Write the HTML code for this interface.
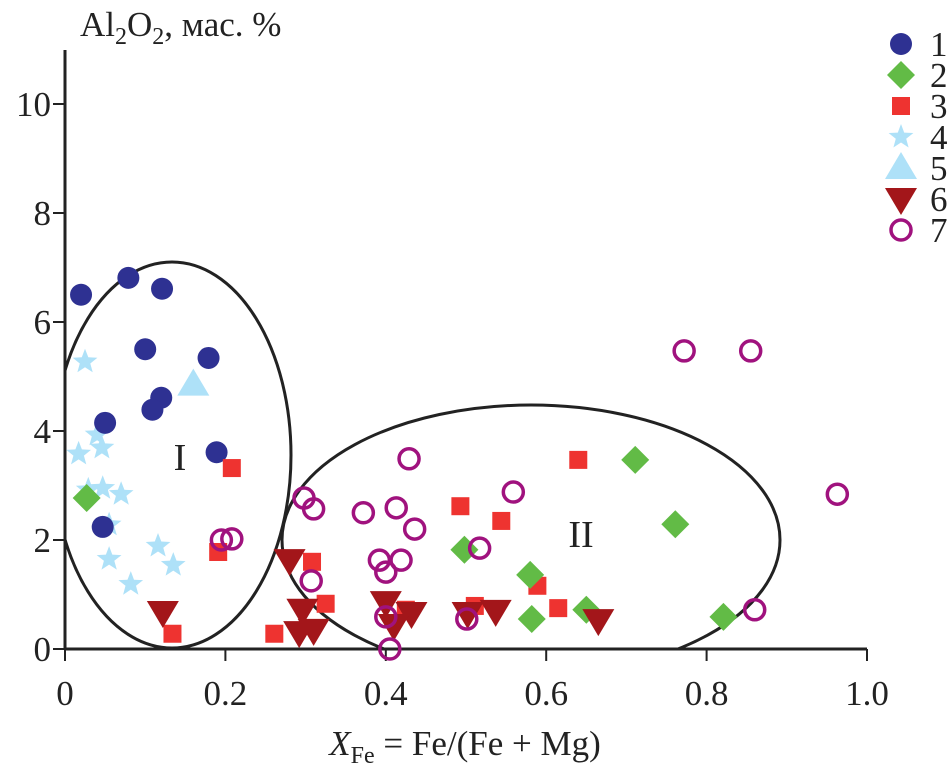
<!DOCTYPE html>
<html><head><meta charset="utf-8"><style>
html,body{margin:0;padding:0;background:#fff;}
svg{display:block;}
svg text{font-family:"Liberation Serif","DejaVu Serif","Times New Roman",serif;}
</style></head><body>
<svg id="chart" width="951" height="775" viewBox="0 0 951 775" font-family="Liberation Serif, DejaVu Serif, serif">
<defs><clipPath id="plotclip"><rect x="65" y="40" width="880" height="609"/></clipPath></defs>
<g id="ellipses" clip-path="url(#plotclip)"></g>
<g id="axes"></g>
<g id="marks"></g>
<g id="legend"></g>
<text x="80" y="36" font-size="35" fill="#222">Al<tspan font-size="24" dy="8">2</tspan><tspan dy="-8">O</tspan><tspan font-size="24" dy="8">2</tspan><tspan dy="-8">, мас. %</tspan></text>
<text x="465" y="755" font-size="35" fill="#222" text-anchor="middle"><tspan font-style="italic">X</tspan><tspan font-size="24" dy="8">Fe</tspan><tspan dy="-8"> = Fe/(Fe + Mg)</tspan></text>
<text x="180" y="470" font-size="38" fill="#222" text-anchor="middle">I</text>
<text x="581" y="547" font-size="38" fill="#222" text-anchor="middle">II</text>
</svg>
<script>
const xTicks=[0,0.2,0.4,0.6,0.8,1.0];
const xTickLabels=["0","0.2","0.4","0.6","0.8","1.0"];
const yTicks=[0,2,4,6,8,10];
const yTickLabels=["0","2","4","6","8","10"];
const s1x=[0.02,0.079,0.121,0.1,0.179,0.12,0.109,0.05,0.189,0.047];
const s1y=[6.5,6.81,6.61,5.5,5.34,4.61,4.39,4.15,3.61,2.24];
const s2x=[0.027,0.498,0.58,0.711,0.761,0.582,0.65,0.821];
const s2y=[2.77,1.82,1.36,3.47,2.29,0.55,0.72,0.59];
const s3x=[0.208,0.191,0.134,0.308,0.325,0.261,0.493,0.544,0.64,0.589,0.615,0.511,0.425];
const s3y=[3.32,1.78,0.28,1.6,0.83,0.28,2.62,2.35,3.47,1.16,0.75,0.79,0.72];
const s4x=[0.025,0.04,0.046,0.017,0.029,0.047,0.07,0.055,0.116,0.055,0.135,0.082];
const s4y=[5.27,3.93,3.69,3.58,2.92,2.95,2.84,2.28,1.89,1.65,1.54,1.19];
const s5x=[0.16];
const s5y=[4.85];
const s6x=[0.122,0.28,0.296,0.292,0.31,0.4,0.432,0.41,0.502,0.537,0.665];
const s6y=[0.68,1.63,0.72,0.31,0.35,0.86,0.66,0.44,0.66,0.7,0.53];
const s7x=[0.195,0.208,0.298,0.31,0.372,0.413,0.436,0.429,0.392,0.419,0.4,0.307,0.4,0.405,0.517,0.559,0.501,0.772,0.855,0.963,0.86];
const s7y=[2.0,2.02,2.77,2.57,2.5,2.59,2.2,3.49,1.63,1.63,1.41,1.25,0.59,0,1.85,2.88,0.55,5.47,5.47,2.84,0.72];
const legendLabels=["1","2","3","4","5","6","7"];

const NS="http://www.w3.org/2000/svg";
const X0=65,X1=867,Y0=649,Y10=104;
function sx(v){return X0+v*(X1-X0);}
function sy(v){return Y0-v*(Y0-Y10)/10;}
function mk(tag,attrs,parent){const e=document.createElementNS(NS,tag);for(const k in attrs)e.setAttribute(k,attrs[k]);parent.appendChild(e);return e;}

const axes=document.getElementById('axes');
let l=mk('line',{x1:X0,y1:50,x2:X0,y2:Y0,stroke:'#222','stroke-width':3},axes);


l=mk('line',{x1:X0-1,y1:Y0,x2:X1,y2:Y0,stroke:'#222','stroke-width':3},axes);


xTicks.forEach((v,i)=>{
  const t=mk('line',{x1:sx(v),y1:Y0,x2:sx(v),y2:Y0+12,stroke:'#222','stroke-width':2},axes);
  
  
  const tx=mk('text',{x:sx(v),y:Y0+56,'font-size':35,'text-anchor':'middle',fill:'#222'},axes);
  tx.textContent=xTickLabels[i];
  
  
});
yTicks.forEach((v,i)=>{
  const t=mk('line',{x1:X0-12,y1:sy(v),x2:X0,y2:sy(v),stroke:'#222','stroke-width':2},axes);
  
  
  const tx=mk('text',{x:X0-14,y:sy(v)+12,'font-size':35,'text-anchor':'end',fill:'#222'},axes);
  tx.textContent=yTickLabels[i];
  
  
});

const ell=document.getElementById('ellipses');
let e1=mk('ellipse',{cx:172,cy:455,rx:119,ry:193,fill:'none',stroke:'#222','stroke-width':3},ell);


let e2=mk('ellipse',{cx:531,cy:540,rx:249,ry:135,fill:'none',stroke:'#222','stroke-width':3},ell);



function starPts(cx,cy,R,r){let p=[];for(let i=0;i<10;i++){const a=-Math.PI/2+i*Math.PI/5;const rr=i%2?r:R;p.push((cx+rr*Math.cos(a)).toFixed(1)+','+(cy+rr*Math.sin(a)).toFixed(1));}return p.join(' ');}
function drawMarker(type,cx,cy,g){
  switch(type){
    case 1:return mk('circle',{cx:cx,cy:cy,r:11,fill:'#2e3192'},g);
    case 2:return mk('polygon',{points:`${cx},${cy-14} ${cx+14},${cy} ${cx},${cy+14} ${cx-14},${cy}`,fill:'#62bb46'},g);
    case 3:return mk('rect',{x:cx-9,y:cy-9,width:18,height:18,fill:'#ee3330'},g);
    case 4:return mk('polygon',{points:starPts(cx,cy,13,5.5),fill:'#aee1f8'},g);
    case 5:return mk('polygon',{points:`${cx},${cy-16} ${cx+16},${cy+11} ${cx-16},${cy+11}`,fill:'#aee1f8'},g);
    case 6:return mk('polygon',{points:`${cx-16},${cy-11} ${cx+16},${cy-11} ${cx},${cy+16}`,fill:'#a3161a'},g);
    case 7:return mk('circle',{cx:cx,cy:cy,r:10,fill:'none',stroke:'#a0127e','stroke-width':3.5},g);
  }
}
const marks=document.getElementById('marks');
const series=[[s7x,s7y,7],[s4x,s4y,4],[s1x,s1y,1],[s5x,s5y,5],[s3x,s3y,3],[s2x,s2y,2],[s6x,s6y,6]];
series.forEach(([xs,ys,t])=>{
  const g=mk('g',{},marks);
  
  
  xs.forEach((v,i)=>{
    const m=drawMarker(t,sx(v),sy(ys[i]),g);
    
    
  });
});
marks.appendChild(marks.firstChild);

const leg=document.getElementById('legend');
legendLabels.forEach((lab,i)=>{
  const y=44+i*31;
  const g=mk('g',{},leg);
  
  
  const m=drawMarker(i+1,901,y,g);
  
  
  const t=mk('text',{x:930,y:y+12,'font-size':35,fill:'#222'},g);
  t.textContent=lab;
  
  
});
</script>
</body></html>
